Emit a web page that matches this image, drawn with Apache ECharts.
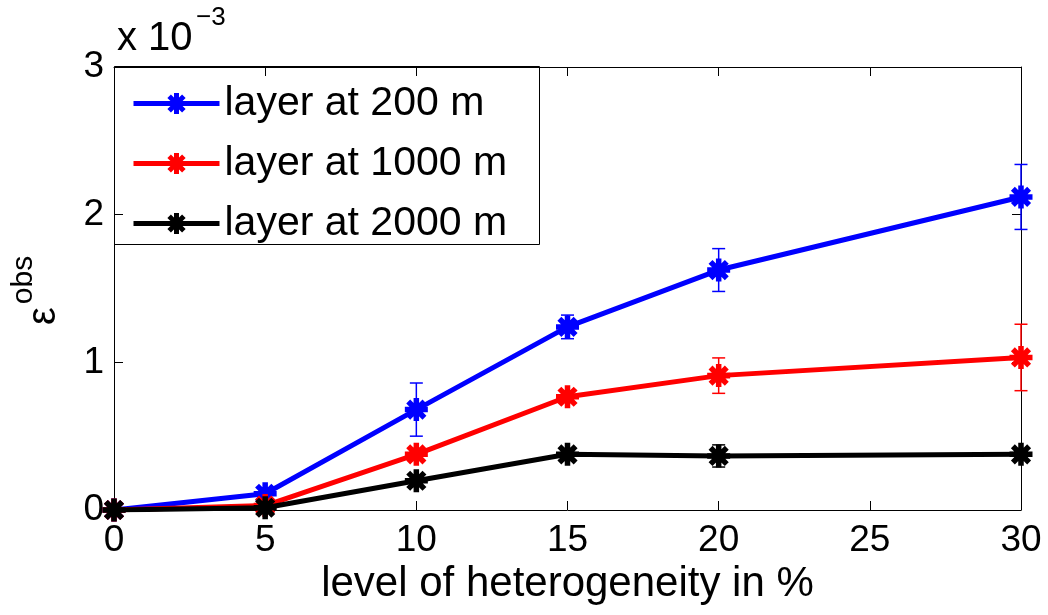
<!DOCTYPE html>
<html>
<head>
<meta charset="utf-8">
<title>epsilon obs vs heterogeneity</title>
<script src="https://cdn.jsdelivr.net/npm/echarts@6/dist/echarts.min.js"></script>
<style>
  html, body { margin: 0; padding: 0; background: #fff; }
  #chart { width: 1048px; height: 615px; }
</style>
</head>
<body>
<div id="chart"></div>
<script>
// heterogeneity levels in %
const levels = [0, 5, 10, 15, 20, 30];

// observed epsilon, in units of 1e-3
const layer200 = [0, 0.11, 0.68, 1.24, 1.625, 2.12];
const layer1000 = [0, 0.03, 0.377, 0.767, 0.91, 1.033];
const layer2000 = [0, 0.015, 0.198, 0.377, 0.366, 0.377];

// half length of the error bars
const err200 = [0, 0.02, 0.18, 0.08, 0.145, 0.22];
const err1000 = [0, 0.01, 0.04, 0.03, 0.12, 0.225];
const err2000 = [0, 0.01, 0.02, 0.02, 0.075, 0.02];

const seriesNames = ['layer at 200 m', 'layer at 1000 m', 'layer at 2000 m'];
const xTicks = [0, 5, 10, 15, 20, 25, 30];
const yTicks = [0, 1, 2, 3];

const FONT = '"Liberation Sans", Arial, Helvetica, sans-serif';

// MATLAB style '*' marker, drawn bold
const asterisk = 'path://M-2.4,-10L2.4,-10L2.4,10L-2.4,10Z' +
  'M-10,-2.4L10,-2.4L10,2.4L-10,2.4Z' +
  'M-8.77,-5.37L-5.37,-8.77L8.77,5.37L5.37,8.77Z' +
  'M-5.37,8.77L-8.77,5.37L5.37,-8.77L8.77,-5.37Z';

const chart = echarts.init(document.getElementById('chart'));

function lineSeries(name, values, color, z) {
  return {
    name: name,
    type: 'line',
    data: levels.map((x, i) => [x, values[i]]),
    symbol: asterisk,
    symbolSize: 23,
    showAllSymbol: true,
    z: z,
    lineStyle: { width: 5, color: color },
    itemStyle: { color: color },
    emphasis: { disabled: true },
    animation: false
  };
}

function errorSeries(values, errs, color, z) {
  return {
    type: 'custom',
    z: z,
    silent: true,
    animation: false,
    data: levels.map((x, i) => [x, values[i] - errs[i], values[i] + errs[i]]),
    renderItem: function (params, api) {
      const x = api.value(0);
      const top = api.coord([x, api.value(2)]);
      const bot = api.coord([x, api.value(1)]);
      const w = 6.5;
      const style = { stroke: color, lineWidth: 1.5 };
      return {
        type: 'group',
        children: [
          { type: 'line', shape: { x1: top[0], y1: top[1], x2: bot[0], y2: bot[1] }, style: style },
          { type: 'line', shape: { x1: top[0] - w, y1: top[1], x2: top[0] + w, y2: top[1] }, style: style },
          { type: 'line', shape: { x1: bot[0] - w, y1: bot[1], x2: bot[0] + w, y2: bot[1] }, style: style }
        ]
      };
    }
  };
}

const axisCommon = {
  type: 'value',
  axisLine: { show: true, onZero: false, lineStyle: { color: '#000', width: 1 } },
  axisTick: { show: true, inside: true, length: 9, lineStyle: { color: '#000', width: 1 } },
  splitLine: { show: false }
};

const option = {
  backgroundColor: '#fff',
  animation: false,
  textStyle: { fontFamily: FONT },
  grid: { left: 114, right: 27, top: 67, bottom: 105 },
  xAxis: [
    Object.assign({}, axisCommon, {
      min: 0, max: 30, interval: 5,
      position: 'bottom',
      name: 'level of heterogeneity in %',
      nameLocation: 'middle',
      nameGap: 51,
      nameTextStyle: { fontSize: 42, color: '#000', fontFamily: FONT },
      axisLabel: {
        fontSize: 37, color: '#000', margin: 12, fontFamily: FONT,
        formatter: v => xTicks.includes(v) ? String(v) : ''
      }
    }),
    Object.assign({}, axisCommon, {
      min: 0, max: 30, interval: 5,
      position: 'top',
      axisLabel: { show: false }
    })
  ],
  yAxis: [
    Object.assign({}, axisCommon, {
      min: 0, max: 3, interval: 1,
      position: 'left',
      axisLabel: {
        fontSize: 37, color: '#000', margin: 10, fontFamily: FONT,
        formatter: v => yTicks.includes(v) ? String(v) : ''
      }
    }),
    Object.assign({}, axisCommon, {
      min: 0, max: 3, interval: 1,
      position: 'right',
      axisLabel: { show: false }
    })
  ],
  legend: {
    data: seriesNames,
    orient: 'vertical',
    left: 126,
    top: 78,
    itemWidth: 86,
    itemHeight: 26,
    itemGap: 19,
    selectedMode: false,
    lineStyle: { width: 5 },
    textStyle: { fontSize: 41, color: '#000', fontFamily: FONT }
  },
  graphic: [
    {
      type: 'rect', z: -1, silent: true,
      shape: { x: 114.5, y: 66.5, width: 425, height: 178 },
      style: { fill: '#fff', stroke: '#000', lineWidth: 1 }
    },
    {
      type: 'text', left: 117, top: 19, silent: true,
      style: { text: 'x 10', fill: '#000', font: '40px ' + FONT }
    },
    {
      type: 'text', left: 196, top: 5, silent: true,
      style: { text: '\u22123', fill: '#000', font: '26px ' + FONT }
    },
    {
      type: 'text', x: 44, y: 316, rotation: Math.PI / 2, silent: true,
      style: { text: '\u03b5', font: '40px ' + FONT, fill: '#000', align: 'center', verticalAlign: 'middle' }
    },
    {
      type: 'text', x: 24, y: 280, rotation: Math.PI / 2, silent: true,
      style: { text: 'obs', font: '30px ' + FONT, fill: '#000', align: 'center', verticalAlign: 'middle' }
    }
  ],
  series: [
    errorSeries(layer200, err200, '#0000ff', 2),
    lineSeries(seriesNames[0], layer200, '#0000ff', 3),
    errorSeries(layer1000, err1000, '#ff0000', 4),
    lineSeries(seriesNames[1], layer1000, '#ff0000', 5),
    errorSeries(layer2000, err2000, '#000000', 6),
    lineSeries(seriesNames[2], layer2000, '#000000', 7)
  ]
};

chart.setOption(option);
window.addEventListener('resize', () => chart.resize());
</script>
</body>
</html>
